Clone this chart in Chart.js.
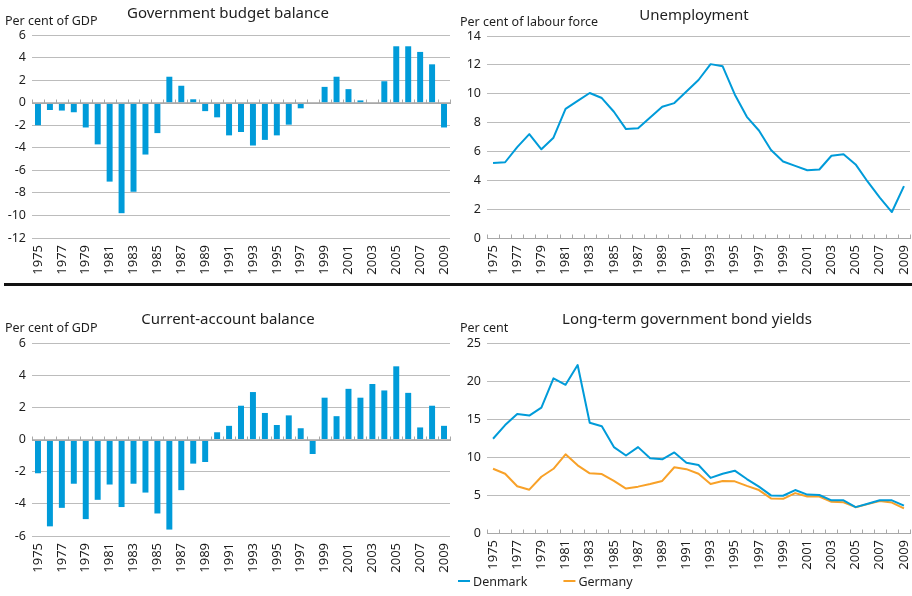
<!DOCTYPE html>
<html>
<head>
<meta charset="utf-8">
<script src="https://cdn.jsdelivr.net/npm/chart.js@4.4.1/dist/chart.umd.min.js"></script>
<style>
    html, body { margin: 0; padding: 0; background: #fff; }
    body { width: 912px; height: 596px; position: relative; overflow: hidden; }
    .panel { position: absolute; }
    #divider { position: absolute; left: 4px; top: 283px; width: 908px; height: 3px; background: #111; }
</style>
</head>
<body>
<div class="panel" style="left:0;top:0;width:455px;height:282px"><canvas id="budget"></canvas></div>
<div class="panel" style="left:455px;top:0;width:457px;height:282px"><canvas id="unemployment"></canvas></div>
<div id="divider"></div>
<div class="panel" style="left:0;top:298px;width:455px;height:298px"><canvas id="current"></canvas></div>
<div class="panel" style="left:455px;top:298px;width:457px;height:298px"><canvas id="yields"></canvas></div>
<script>
const years = [
    "1975", "1976", "1977", "1978", "1979", "1980", "1981", "1982", "1983", "1984",
    "1985", "1986", "1987", "1988", "1989", "1990", "1991", "1992", "1993", "1994",
    "1995", "1996", "1997", "1998", "1999", "2000", "2001", "2002", "2003", "2004",
    "2005", "2006", "2007", "2008", "2009",
];

// Government budget balance, per cent of GDP
const budgetBalance = [
    -2.0, -0.65, -0.7, -0.85, -2.2, -3.7, -7.0, -9.8, -7.9, -4.6,
    -2.7, 2.3, 1.5, 0.3, -0.75, -1.3, -2.9, -2.6, -3.8, -3.3,
    -2.9, -1.95, -0.5, -0.1, 1.4, 2.3, 1.2, 0.2, -0.1, 1.9,
    5.0, 5.0, 4.5, 3.4, -2.2,
];

// Unemployment, per cent of labour force
const unemployment = [
    5.2, 5.25, 6.3, 7.2, 6.15, 6.95, 8.95, 9.5, 10.05, 9.7,
    8.75, 7.55, 7.6, 8.35, 9.1, 9.35, 10.15, 10.95, 12.05, 11.9,
    9.95, 8.4, 7.45, 6.1, 5.3, 5.0, 4.7, 4.75, 5.7, 5.8,
    5.1, 3.9, 2.8, 1.8, 3.6,
];

// Current-account balance, per cent of GDP
const currentAccount = [
    -2.1, -5.4, -4.25, -2.75, -4.95, -3.75, -2.8, -4.2, -2.75, -3.3,
    -4.6, -5.6, -3.15, -1.5, -1.4, 0.45, 0.85, 2.1, 2.95, 1.65,
    0.9, 1.5, 0.7, -0.9, 2.6, 1.45, 3.15, 2.6, 3.45, 3.05,
    4.55, 2.9, 0.75, 2.1, 0.85,
];

// Long-term government bond yields, per cent
const denmarkYield = [
    12.4, 14.2, 15.65, 15.45, 16.5, 20.35, 19.5, 22.1, 14.5, 14.05,
    11.3, 10.2, 11.3, 9.85, 9.7, 10.6, 9.25, 8.95, 7.25, 7.8,
    8.2, 7.1, 6.1, 4.95, 4.9, 5.65, 5.05, 5.0, 4.3, 4.3,
    3.4, 3.85, 4.3, 4.3, 3.6,
];
const germanyYield = [
    8.45, 7.8, 6.15, 5.7, 7.4, 8.45, 10.35, 8.9, 7.85, 7.75,
    6.85, 5.85, 6.1, 6.45, 6.85, 8.65, 8.4, 7.8, 6.45, 6.85,
    6.8, 6.2, 5.65, 4.55, 4.5, 5.25, 4.8, 4.8, 4.1, 4.05,
    3.4, 3.8, 4.2, 4.0, 3.25,
];

const BLUE = "#009bd9";
const ORANGE = "#f8a128";
const GRID = "#bcbcbc";
const TEXT = "#1e1e1e";
const FONT = '"Noto Sans", "Open Sans", sans-serif';

Chart.defaults.font.family = FONT;
Chart.defaults.color = TEXT;
Chart.defaults.animation = false;

// titles, unit labels, legend and the small ticks along the zero line
const panelDecor = {
    id: "panelDecor",
    afterDraw(chart, args, opts) {
        const ctx = chart.ctx;
        const xs = chart.scales.x;
        const ys = chart.scales.y;
        ctx.save();
        const y0 = Math.round(ys.getPixelForValue(0)) + 0.5;
        ctx.strokeStyle = "#a8a8a8";
        ctx.lineWidth = 1;
        ctx.beginPath();
        ctx.moveTo(chart.chartArea.left, y0);
        ctx.lineTo(chart.chartArea.right, y0);
        for (let i = 0; i <= chart.data.labels.length; i++) {
            const px = Math.round(xs.getPixelForValue(i - 0.5)) + 0.5;
            ctx.moveTo(px, y0 - 4);
            ctx.lineTo(px, y0 + 0.5);
        }
        ctx.stroke();

        ctx.fillStyle = TEXT;
        ctx.textBaseline = "alphabetic";
        ctx.font = "15px " + FONT;
        ctx.textAlign = "center";
        ctx.fillText(opts.title, opts.titleX, opts.titleY);
        ctx.font = "12.5px " + FONT;
        ctx.textAlign = "left";
        ctx.fillText(opts.unit, opts.unitX, opts.unitY);

        if (opts.legend) {
            let lx = 3;
            const ly = chart.height - 15;
            ctx.textBaseline = "middle";
            ctx.lineWidth = 2;
            chart.data.datasets.forEach((ds) => {
                ctx.strokeStyle = ds.borderColor;
                ctx.beginPath();
                ctx.moveTo(lx, ly);
                ctx.lineTo(lx + 12, ly);
                ctx.stroke();
                ctx.fillText(ds.label, lx + 15, ly + 1);
                lx += 15 + ctx.measureText(ds.label).width + 36;
            });
        }
        ctx.restore();
    },
};

function makePanel(id, type, datasets, cfg) {
    return new Chart(document.getElementById(id), {
        type: type,
        data: { labels: years, datasets: datasets },
        plugins: [panelDecor],
        options: {
            responsive: true,
            maintainAspectRatio: false,
            layout: { padding: cfg.padding },
            plugins: {
                legend: { display: false },
                tooltip: { enabled: false },
                panelDecor: cfg.decor,
            },
            scales: {
                x: {
                    offset: true,
                    grid: { display: false, drawTicks: false, offset: true },
                    border: { display: false },
                    ticks: {
                        autoSkip: false,
                        minRotation: 90,
                        maxRotation: 90,
                        padding: 7,
                        font: { size: 13 },
                        callback: (v, i) => (i % 2 === 0 ? years[i] : ""),
                    },
                    afterFit: (s) => {
                        s.height = cfg.xHeight;
                        s.paddingLeft = 0;
                        s.paddingRight = 0;
                    },
                },
                y: {
                    min: cfg.min,
                    max: cfg.max,
                    grid: { color: GRID, lineWidth: 1, drawTicks: false },
                    border: { display: false },
                    ticks: { stepSize: cfg.step, padding: 6, font: { size: 12.5 } },
                    afterFit: (s) => { s.width = 32; },
                },
            },
        },
    });
}

const barStyle = {
    backgroundColor: BLUE,
    barPercentage: 0.5,
    categoryPercentage: 1,
};
const lineStyle = {
    borderWidth: 2,
    pointRadius: 0,
    tension: 0,
    borderJoinStyle: "round",
};

makePanel("budget", "bar", [{ label: "Budget balance", data: budgetBalance, ...barStyle }], {
    min: -12, max: 6, step: 2,
    padding: { top: 35, right: 5, left: 0, bottom: 0 },
    xHeight: 44,
    decor: { title: "Government budget balance", titleX: 228, titleY: 18, unit: "Per cent of GDP", unitX: 5, unitY: 25 },
});

makePanel("unemployment", "line", [{ label: "Unemployment", data: unemployment, borderColor: BLUE, backgroundColor: BLUE, ...lineStyle }], {
    min: 0, max: 14, step: 2,
    padding: { top: 36, right: 2, left: 0, bottom: 0 },
    xHeight: 44,
    decor: { title: "Unemployment", titleX: 239, titleY: 20, unit: "Per cent of labour force", unitX: 5, unitY: 26 },
});

makePanel("current", "bar", [{ label: "Current-account balance", data: currentAccount, ...barStyle }], {
    min: -6, max: 6, step: 2,
    padding: { top: 45, right: 5, left: 0, bottom: 0 },
    xHeight: 60,
    decor: { title: "Current-account balance", titleX: 228, titleY: 26, unit: "Per cent of GDP", unitX: 5, unitY: 34 },
});

makePanel("yields", "line", [
    { label: "Denmark", data: denmarkYield, borderColor: BLUE, backgroundColor: BLUE, ...lineStyle },
    { label: "Germany", data: germanyYield, borderColor: ORANGE, backgroundColor: ORANGE, ...lineStyle },
], {
    min: 0, max: 25, step: 5,
    padding: { top: 45, right: 2, left: 0, bottom: 22 },
    xHeight: 41,
    decor: { title: "Long-term government bond yields", titleX: 232, titleY: 26, unit: "Per cent", unitX: 5, unitY: 34, legend: true },
});
</script>
</body>
</html>
